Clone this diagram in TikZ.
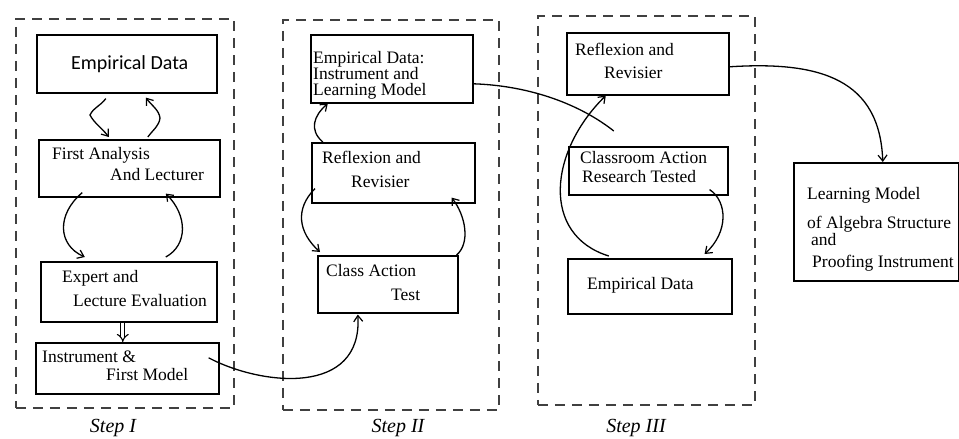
\documentclass[tikz,border=0pt]{standalone}
\usepackage{fontspec}
\setmainfont{Liberation Serif}
\newfontfamily\calib{Carlito}
\usetikzlibrary{arrows.meta,calc}
\begin{document}
\begin{tikzpicture}[x=1pt,y=-1pt,
  box/.style={draw,line width=1.6pt,inner sep=0pt,anchor=north west},
  phase/.style={draw=black!75,line width=1.7pt,dash pattern=on 10pt off 7pt,inner sep=0pt,anchor=north west},
  txt/.style={anchor=base west,inner sep=0pt,font=\fontsize{17.5}{20}\selectfont},
  steplbl/.style={anchor=base,inner sep=0pt,font=\fontsize{20}{24}\selectfont\itshape},
  arr/.style={line width=1.3pt,-{Straight Barb[length=6pt,width=9pt,line width=1.2pt]}},
  plain/.style={line width=1.3pt},
  dbl/.style={double,double distance=3pt,line width=1.1pt,-{Implies[length=5pt]}}]
\useasboundingbox (0,0) rectangle (959,439);

% phase frames
\node[phase,minimum width=218pt,minimum height=389pt] (s1) at (15,18) {};
\node[phase,minimum width=216pt,minimum height=390pt] (s2) at (282,19) {};
\node[phase,minimum width=217pt,minimum height=389pt] (s3) at (537,15) {};
\node[steplbl] (l1) at (113,432) {Step I};
\node[steplbl] (l2) at (398,432) {Step II};
\node[steplbl] (l3) at (636,432) {Step III};

% Step I
\node[box,minimum width=180pt,minimum height=58pt] (ed1) at (36,34) {};
\node[txt,font=\calib\fontsize{20}{22}\selectfont] (ted1) at (71,69) {Empirical Data};
\node[box,minimum width=181pt,minimum height=57pt] (fa) at (38,139) {};
\node[txt] (tfa1) at (52,159) {First Analysis};
\node[txt] (tfa2) at (110,180) {And Lecturer};
\node[box,minimum width=176pt,minimum height=60pt] (ex) at (40,261) {};
\node[txt] (tex1) at (62,282) {Expert and};
\node[txt] (tex2) at (73,306) {Lecture Evaluation};
\node[box,minimum width=183pt,minimum height=51pt] (in) at (35,342) {};
\node[txt] (tin1) at (42,362) {Instrument \&};
\node[txt] (tin2) at (106,380) {First Model};

% Step II
\node[box,minimum width=162pt,minimum height=68pt] (ed2) at (310,34) {};
\node[txt] (ted2a) at (313,63) {Empirical Data:};
\node[txt] (ted2b) at (313,79) {Instrument and};
\node[txt] (ted2c) at (313,95) {Learning Model};
\node[box,minimum width=163pt,minimum height=60pt] (rr2) at (311,142) {};
\node[txt] (trr2a) at (322,163) {Reflexion and};
\node[txt] (trr2b) at (351,187) {Revisier};
\node[box,minimum width=140pt,minimum height=57pt] (ca) at (317,255) {};
\node[txt] (tca1) at (326,276) {Class Action};
\node[txt] (tca2) at (391,300) {Test};

% Step III
\node[box,minimum width=162pt,minimum height=62pt] (rr3) at (566,32) {};
\node[txt] (trr3a) at (575,55) {Reflexion and};
\node[txt] (trr3b) at (604,78) {Revisier};
\node[box,minimum width=159pt,minimum height=48pt] (crt) at (568,146) {};
\node[txt] (tcrt1) at (580,163) {Classroom Action};
\node[txt] (tcrt2) at (582,182) {Research Tested};
\node[box,minimum width=164pt,minimum height=55pt] (ed3) at (567,258) {};
\node[txt] (ted3) at (587,289) {Empirical Data};

% Final
\node[box,minimum width=165pt,minimum height=118pt] (fin) at (793,162) {};
\node[txt] (tfin1) at (807,199) {Learning Model};
\node[txt] (tfin2) at (807,228) {of Algebra Structure};
\node[txt] (tfin3) at (811,245) {and};
\node[txt] (tfin4) at (812,267) {Proofing Instrument};

% connectors Step I
\draw[arr] ([xshift=-21pt,yshift=-5pt]ed1.south) .. controls +(-6,8) and +(4,-8) .. (90,115) .. controls +(4,8) and +(-6,-8) .. ([xshift=-20.5pt,yshift=2pt]fa.north);
\draw[arr] ([xshift=18.5pt,yshift=2pt]fa.north) .. controls +(6,-8) and +(-1,8) .. (160,118) .. controls +(-1,-8) and +(6,8) .. ([xshift=19pt,yshift=-4pt]ed1.south);
\draw[arr] ([xshift=-47pt,yshift=5pt]fa.south) .. controls +(-26,22) and +(-27,-12) .. ([xshift=-44pt,yshift=4pt]ex.north);
\draw[arr] ([xshift=37pt,yshift=4pt]ex.north) .. controls +(22,-12) and +(22,22) .. ([xshift=36.5pt,yshift=4pt]fa.south);
\draw[dbl] ([xshift=-6pt]ex.south) -- ([xshift=-4.5pt]in.north);
\draw[arr] ([xshift=-11pt,yshift=10.5pt]in.east) .. controls +(53,28) and +(5,82) .. ([xshift=-30pt,yshift=-1pt]ca.south);

% Step II
\draw[arr] ([xshift=-70.5pt]rr2.north) .. controls +(-14,-12) and +(-14,12) .. ([xshift=-64pt]ed2.south);
\draw[arr] ([xshift=4pt,yshift=15pt]rr2.south west) .. controls +(-20,20) and +(-22,-20) .. ([xshift=3pt,yshift=3pt]ca.north west);
\draw[arr] ([xshift=-2pt]ca.north east) .. controls +(14,-12) and +(14,18) .. ([xshift=-24pt,yshift=6pt]rr2.south east);
\draw[plain] ([yshift=-15pt]ed2.east) .. controls +(58,2) and +(-33,-26) .. ([xshift=-34.5pt,yshift=15pt]crt.north);

% Step III
\draw[arr] ([xshift=-41pt,yshift=2pt]ed3.north) .. controls +(-68,-21) and +(-57,56) .. ([xshift=-42pt]rr3.south);
\draw[arr] ([xshift=-19pt,yshift=6pt]crt.south east) .. controls +(18,12) and +(24,-22) .. ([xshift=-28pt,yshift=4pt]ed3.north east);
\draw[arr] ([yshift=-3pt]rr3.east) .. controls +(92,-6) and +(-3,-82) .. ([xshift=6.5pt]fin.north);
\end{tikzpicture}
\end{document}
